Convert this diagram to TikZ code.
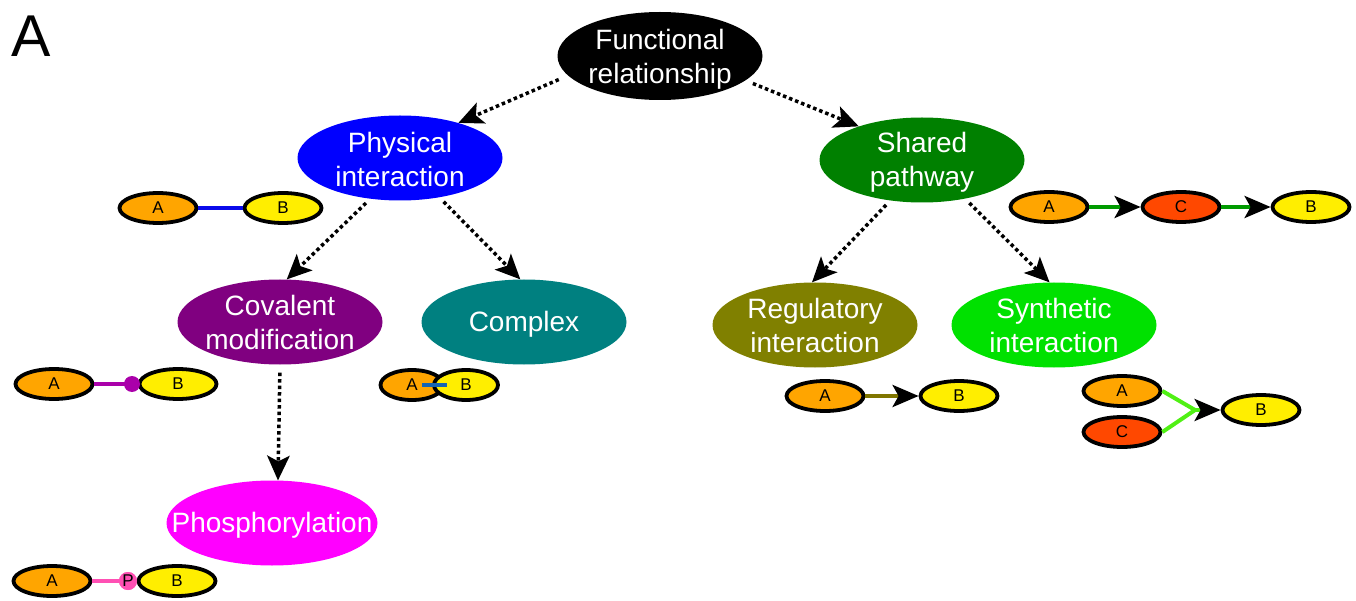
\documentclass[tikz,border=0pt]{standalone}
\usepackage{fontspec}
\setmainfont{Liberation Sans}
\usetikzlibrary{arrows.meta,shapes.geometric}
\definecolor{cOrange}{RGB}{255,165,0}
\definecolor{cYellow}{RGB}{255,238,0}
\definecolor{cRed}{RGB}{255,72,0}
\definecolor{cBlue}{RGB}{0,0,255}
\definecolor{cGreen}{RGB}{0,128,0}
\definecolor{cPurple}{RGB}{128,0,128}
\definecolor{cTeal}{RGB}{0,128,128}
\definecolor{cOlive}{RGB}{128,128,0}
\definecolor{cLime}{RGB}{0,225,0}
\definecolor{cMagenta}{RGB}{255,0,255}
\definecolor{lBlue}{RGB}{10,10,235}
\definecolor{lPurple}{RGB}{170,0,170}
\definecolor{lTeal}{RGB}{20,100,180}
\definecolor{lPink}{RGB}{255,80,180}
\definecolor{lGreen}{RGB}{0,155,0}
\definecolor{lOlive}{RGB}{128,118,0}
\definecolor{lLime}{RGB}{80,240,20}
\tikzset{
  big/.style={ellipse,inner sep=0pt,minimum width=205pt,minimum height=85pt},
  bigtext/.style={inner sep=0pt,text=white,align=center,font=\fontsize{28}{34}\selectfont},
  small/.style={ellipse,draw=black,line width=3.8pt,inner sep=0pt,minimum width=77pt,minimum height=30pt,
    font=\fontsize{17}{17}\selectfont},
  dotarrow/.style={line width=3.5pt,dash pattern=on 3.5pt off 3pt,
    -{Stealth[length=25pt,width=23pt,inset=6pt,line width=0pt]}},
  linkarrow/.style={line width=4pt,-{Stealth[length=26pt,width=22pt,inset=6pt,color=black]}}
}
\begin{document}
\begin{tikzpicture}[x=1pt,y=-1pt]
\useasboundingbox (0,0) rectangle (1356,601);
\node[anchor=base west,font=\fontsize{59}{59}\selectfont,inner sep=0pt] (panel) at (11,57) {A};

% main hierarchy
\node[big,fill=black,minimum height=88pt] (func) at (660,56) {};
\node[bigtext] (funcT) at (660,59) {Functional\\relationship};
\node[big,fill=cBlue] (phys) at (400,158) {};
\node[bigtext] (physT) at (400,159) {Physical\\interaction};
\node[big,fill=cGreen] (shared) at (922,160) {};
\node[bigtext] (sharedT) at (922,162) {Shared\\pathway};
\node[big,fill=cPurple] (cov) at (280,322) {};
\node[bigtext] (covT) at (280,322) {Covalent\\modification};
\node[big,fill=cTeal] (cplx) at (524,322) {};
\node[bigtext] (cplxT) at (524,324) {Complex};
\node[big,fill=cOlive] (reg) at (815,325) {};
\node[bigtext] (regT) at (815,325) {Regulatory\\interaction};
\node[big,fill=cLime] (syn) at (1054,325) {};
\node[bigtext] (synT) at (1054,325) {Synthetic\\interaction};
\node[big,fill=cMagenta,minimum width=211pt] (phos) at (272,523) {};
\node[bigtext] (phosT) at (272,525) {Phosphorylation};

\draw[dotarrow,shorten <=10pt] (func.192) -- (phys.31);
\draw[dotarrow,shorten <=8pt] (func.-16) -- (shared.152);
\draw[dotarrow,shorten <=6pt] (phys.-126) -- (cov.81);
\draw[dotarrow,shorten <=6pt] (phys.-45) -- (cplx.95);
\draw[dotarrow,shorten <=6pt] (shared.-128) -- (reg.94);
\draw[dotarrow,shorten <=6pt] (shared.-42) -- (syn.96);
\draw[dotarrow,shorten <=8pt] (cov.-90) -- (phos.82);

% physical interaction example
\node[small,fill=cOrange] (pA) at (158,208) {A};
\node[small,fill=cYellow] (pB) at (283,208) {B};
\draw[lBlue,line width=4pt] (pA.east) -- (pB.west);

% covalent modification example
\node[small,fill=cOrange] (cA) at (54,384) {A};
\node[small,fill=cYellow] (cB) at (178,384) {B};
\node[circle,fill=lPurple,inner sep=0pt,minimum size=16pt] (cdot) at (132,384) {};
\draw[lPurple,line width=4pt] (cA.east) -- (cdot.center);

% complex example
\node[small,fill=cOrange,minimum width=63pt] (xA) at (412,385) {A};
\node[small,fill=cYellow,minimum width=64pt] (xB) at (466,385) {B};
\coordinate (xl) at (422,385);
\coordinate (xr) at (447,385);
\draw[lTeal,line width=4pt] (xl) -- (xr);

% phosphorylation example
\node[small,fill=cOrange] (hA) at (52,581) {A};
\node[small,fill=cYellow] (hB) at (177,581) {B};
\node[circle,fill=lPink,inner sep=0pt,minimum size=18pt] (hP) at (128,581) {};
\draw[lPink,line width=4pt] (hA.east) -- (hP.center);
\node[circle,fill=lPink,inner sep=0pt,minimum size=18pt,font=\fontsize{17}{17}\selectfont] (hPt) at (hP.center) {P};

% shared pathway example
\node[small,fill=cOrange] (sA) at (1049,207) {A};
\node[small,fill=cRed] (sC) at (1181,207) {C};
\node[small,fill=cYellow] (sB) at (1311,207) {B};
\draw[linkarrow,lGreen] (sA.east) -- (sC.west);
\draw[linkarrow,lGreen] (sC.east) -- (sB.west);

% regulatory example
\node[small,fill=cOrange] (rA) at (825,396) {A};
\node[small,fill=cYellow] (rB) at (959,396) {B};
\draw[linkarrow,lOlive] (rA.east) -- (rB.west);

% synthetic example
\node[small,fill=cOrange] (yA) at (1122,391) {A};
\node[small,fill=cRed] (yC) at (1122,432) {C};
\node[small,fill=cYellow] (yB) at (1261,410) {B};
\coordinate (yj) at (1195,410);
\draw[lLime,line width=4pt,line join=miter] (yA.east) -- (yj) -- (yC.east);
\draw[linkarrow,lLime] (yj) -- (yB.west);
\end{tikzpicture}
\end{document}
